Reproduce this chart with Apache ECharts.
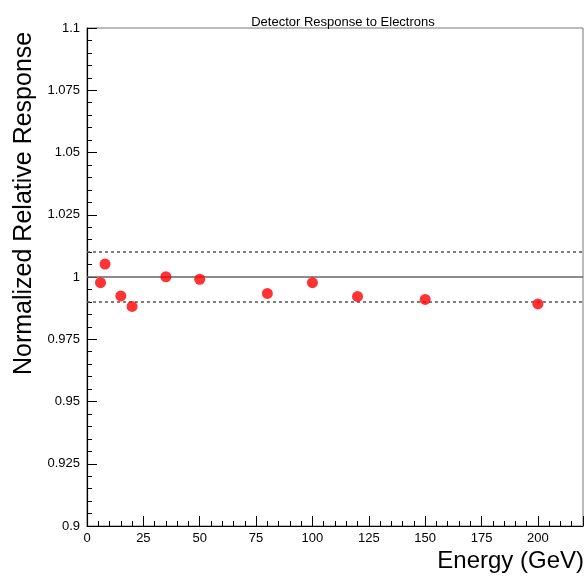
<!DOCTYPE html>
<html>
<head>
<meta charset="utf-8">
<script src="https://cdn.jsdelivr.net/npm/echarts@6/dist/echarts.min.js"></script>
<style>
  html, body { margin: 0; padding: 0; background: #fff; }
  #chart { width: 586px; height: 581px; }
</style>
</head>
<body>
<div id="chart"></div>
<script>
const energy = [6, 8, 15, 20, 35, 50, 80, 100, 120, 150, 200];
const response = [0.9977, 1.0052, 0.9924, 0.9882, 1.0001, 0.9991, 0.9934, 0.9977, 0.9922, 0.991, 0.9892];
const refSolid = [1.0];
const refDashed = [1.01, 0.99];

const chart = echarts.init(document.getElementById("chart"));
const font = "Liberation Sans, Arial, sans-serif";

chart.setOption({
  animation: false,
  title: {
    text: "Detector Response to Electrons",
    left: 338,
    top: 11,
    textAlign: "center",
    textStyle: { fontFamily: font, fontSize: 13, fontWeight: "normal", color: "#000" },
  },
  grid: { left: 87, right: 3, top: 28, bottom: 55, show: true, borderColor: "#777", borderWidth: 1 },
  xAxis: {
    type: "value",
    min: 0,
    max: 220,
    interval: 25,
    axisLine: { lineStyle: { color: "#000", width: 1.2 } },
    axisTick: { inside: true, length: 10, lineStyle: { color: "#000" } },
    minorTick: { show: true, splitNumber: 5, length: 5, lineStyle: { color: "#000" } },
    splitLine: { show: false },
    axisLabel: { fontFamily: font, fontSize: 13, color: "#000", margin: 6, showMaxLabel: false },
  },
  yAxis: {
    type: "value",
    min: 0.9,
    max: 1.1,
    interval: 0.025,
    axisLine: { show: true, lineStyle: { color: "#000", width: 1.2 } },
    axisTick: { show: true, inside: true, length: 10, lineStyle: { color: "#000" } },
    minorTick: { show: true, splitNumber: 5, length: 5, lineStyle: { color: "#000" } },
    splitLine: { show: false },
    axisLabel: { fontFamily: font, fontSize: 13, color: "#000", margin: 7 },
  },
  graphic: [
    {
      type: "text",
      x: 584,
      y: 549,
      style: { text: "Energy (GeV)", font: "24px " + font, fill: "#000", align: "right" },
    },
    {
      type: "text",
      x: 12,
      y: 375,
      rotation: Math.PI / 2,
      style: { text: "Normalized Relative Response", font: "25px " + font, fill: "#000" },
    },
  ],
  series: [
    {
      type: "scatter",
      data: energy.map((e, i) => [e, response[i]]),
      symbol: "circle",
      symbolSize: 11,
      itemStyle: { color: "#ff0000" },
      z: 5,
      markLine: {
        silent: true,
        symbol: "none",
        label: { show: false },
        data: [
          ...refSolid.map((v) => ({ yAxis: v, lineStyle: { type: "solid", color: "#666", width: 1.5 } })),
          ...refDashed.map((v) => ({ yAxis: v, lineStyle: { type: [3, 3], color: "#555", width: 1.5 } })),
        ],
      },
    },
  ],
});
</script>
</body>
</html>
